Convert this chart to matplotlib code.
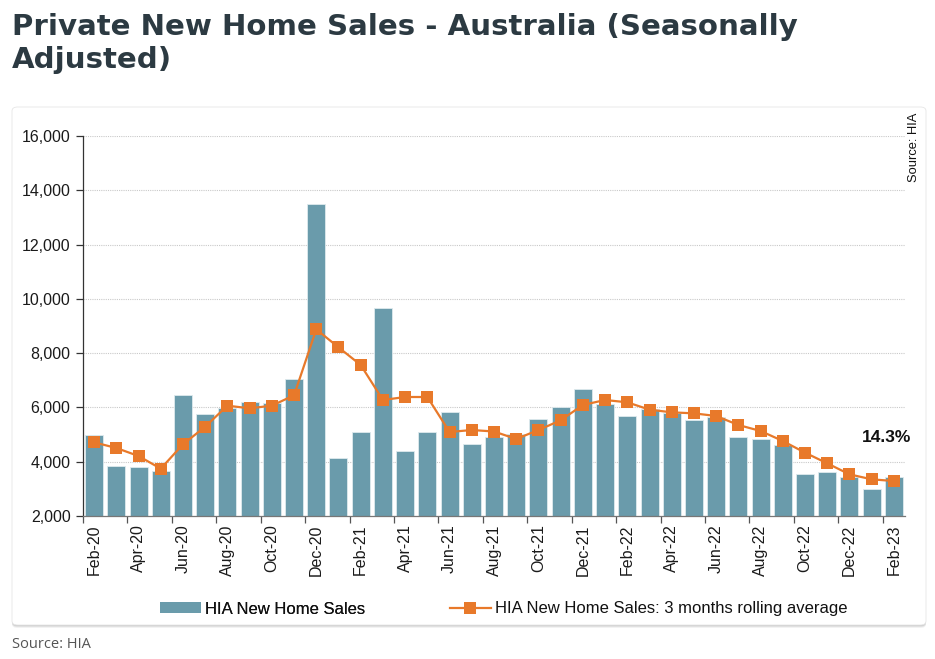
import matplotlib
matplotlib.use("Agg")
import matplotlib.pyplot as plt
from matplotlib.patches import FancyBboxPatch, Patch
from matplotlib.lines import Line2D
from matplotlib.ticker import FuncFormatter

months = ["Feb-20", "Mar-20", "Apr-20", "May-20", "Jun-20", "Jul-20", "Aug-20", "Sep-20",
          "Oct-20", "Nov-20", "Dec-20", "Jan-21", "Feb-21", "Mar-21", "Apr-21", "May-21",
          "Jun-21", "Jul-21", "Aug-21", "Sep-21", "Oct-21", "Nov-21", "Dec-21", "Jan-22",
          "Feb-22", "Mar-22", "Apr-22", "May-22", "Jun-22", "Jul-22", "Aug-22", "Sep-22",
          "Oct-22", "Nov-22", "Dec-22", "Jan-23", "Feb-23"]
sales = [5000, 3840, 3805, 3646, 6458, 5758, 5979, 6200, 6150, 7047, 13495, 4137, 5080,
         9675, 4395, 5080, 5830, 4650, 4910, 5020, 5574, 6016, 6691, 6139, 5696, 5930,
         5807, 5537, 5635, 4898, 4825, 4616, 3560, 3620, 3437, 3007, 3437]
rolling = [4714, 4505, 4210, 3744, 4640, 5291, 6065, 5967, 6065, 6446, 8877, 8214, 7563,
           6274, 6384, 6384, 5095, 5168, 5113, 4837, 5168, 5525, 6090, 6274, 6188, 5918,
           5819, 5782, 5684, 5353, 5132, 4763, 4333, 3940, 3535, 3351, 3289]
y_ticks = [2000, 4000, 6000, 8000, 10000, 12000, 14000, 16000]
title_lines = ["Private New Home Sales - Australia (Seasonally", "Adjusted)"]
annotation = "14.3%"
bar_label = "HIA New Home Sales"
line_label = "HIA New Home Sales: 3 months rolling average"

BAR_C = "#6a9bab"
LINE_C = "#e8792a"
TITLE_C = "#2c3a42"

W, H = 935, 659
fig = plt.figure(figsize=(W / 100, H / 100), dpi=100)
fig.patch.set_facecolor("white")

def fx(px):
    return px / W

def fy(py):
    return 1 - py / H

# card with shadow
for off, alpha in [(3, 0.05), (2, 0.07), (1, 0.09)]:
    sh = FancyBboxPatch((fx(12), fy(625 + off)), fx(914), (625 - 107) / H,
                        boxstyle="round,pad=0,rounding_size=0.006",
                        transform=fig.transFigure, facecolor="black", alpha=alpha,
                        edgecolor="none", zorder=0)
    fig.add_artist(sh)
card = FancyBboxPatch((fx(12), fy(625)), fx(914), (625 - 107) / H,
                      boxstyle="round,pad=0,rounding_size=0.006",
                      transform=fig.transFigure, facecolor="white",
                      edgecolor="#e6e6e6", linewidth=0.6, zorder=1)
fig.add_artist(card)

ax = fig.add_axes([fx(83), fy(516), fx(905 - 83), (516 - 136) / H], zorder=2)
ax.set_facecolor("none")

x = list(range(len(months)))
ax.bar(x, sales, width=0.81, color=BAR_C, edgecolor="#dfeaee", linewidth=0.6,
       bottom=0, zorder=2)
ax.plot(x, rolling, color=LINE_C, linewidth=1.6, marker="s", markersize=8.5,
        markeredgewidth=0, zorder=3)

ax.set_xlim(-0.5, len(months) - 0.5)
ax.set_ylim(y_ticks[0], y_ticks[-1])
ax.set_yticks(y_ticks)
ax.yaxis.set_major_formatter(FuncFormatter(lambda v, p: f"{int(v):,}"))
for v in y_ticks[1:]:
    ax.axhline(v, color="#c9c9c9", linewidth=0.8, linestyle=(0, (1, 1)), zorder=1)

# ticks at category boundaries every 2, labels at centers
bounds = [i - 0.5 for i in range(0, len(months), 2)]
ax.set_xticks(bounds)
ax.set_xticklabels([""] * len(bounds))
ax.set_xticks(x[::2], minor=True)
ax.set_xticklabels(months[::2], minor=True, rotation=90, fontsize=11.5,
                   family="Liberation Sans", color="#1a1a1a")
ax.tick_params(axis="x", which="major", length=5, width=0.9, color="#555555", direction="out")
ax.tick_params(axis="x", which="minor", length=0, pad=6)
ax.tick_params(axis="y", length=5, width=0.9, color="#333333", pad=4,
               labelsize=11.5, labelcolor="#1a1a1a")
for lab in ax.get_yticklabels():
    lab.set_family("Liberation Sans")

for s in ["top", "right"]:
    ax.spines[s].set_visible(False)
ax.spines["left"].set_color("#333333")
ax.spines["left"].set_linewidth(0.9)
ax.spines["bottom"].set_color("#777777")
ax.spines["bottom"].set_linewidth(0.9)

# annotation
fig.text(fx(887), fy(437), annotation, ha="center", va="center", fontsize=12.5,
         fontweight="bold", family="Liberation Sans",
         color="#111111", zorder=5)

# right source
fig.text(fx(914), fy(113), "Source: HIA", rotation=90, ha="center", va="top",
         fontsize=9.3, family="Liberation Sans",
         color="#111111", zorder=5)

# legends
leg1 = fig.legend(handles=[Patch(facecolor=BAR_C, edgecolor="none")], labels=[bar_label],
                  loc="center left", bbox_to_anchor=(fx(160), fy(609)), frameon=False,
                  borderpad=0, borderaxespad=0, handlelength=2.45, handleheight=0.6,
                  handletextpad=0.25,
                  prop={"family": "Liberation Sans", "size": 12})
leg2 = fig.legend(handles=[Line2D([], [], color=LINE_C, linewidth=1.6, marker="s",
                                  markersize=8.5, markeredgewidth=0)],
                  labels=[line_label],
                  loc="center left", bbox_to_anchor=(fx(450), fy(609)), frameon=False,
                  borderpad=0, borderaxespad=0, handlelength=2.45, handletextpad=0.25,
                  prop={"family": "Liberation Sans", "size": 12})
fig.add_artist(leg1)
for t in leg1.get_texts() + leg2.get_texts():
    t.set_color("#111111")

# title, sized so that the first line spans the reference width
t1 = fig.text(fx(12), fy(35), title_lines[0], fontsize=22, fontweight="bold",
              family="DejaVu Sans", color=TITLE_C, ha="left", va="baseline")
t2 = fig.text(fx(12), fy(68), title_lines[1], fontsize=22, fontweight="bold",
              family="DejaVu Sans", color=TITLE_C, ha="left", va="baseline")
fig.canvas.draw()
r = fig.canvas.get_renderer()
wpx = t1.get_window_extent(r).width
new_size = 22 * 783 / wpx
t1.set_fontsize(new_size)
t2.set_fontsize(new_size)

# bottom source
fig.text(fx(12), fy(645), "Source: HIA", fontsize=10.5, family=["Open Sans", "DejaVu Sans"],
         color="#555555", ha="left", va="center")

fig.savefig("out.png", dpi=100, facecolor="white")
